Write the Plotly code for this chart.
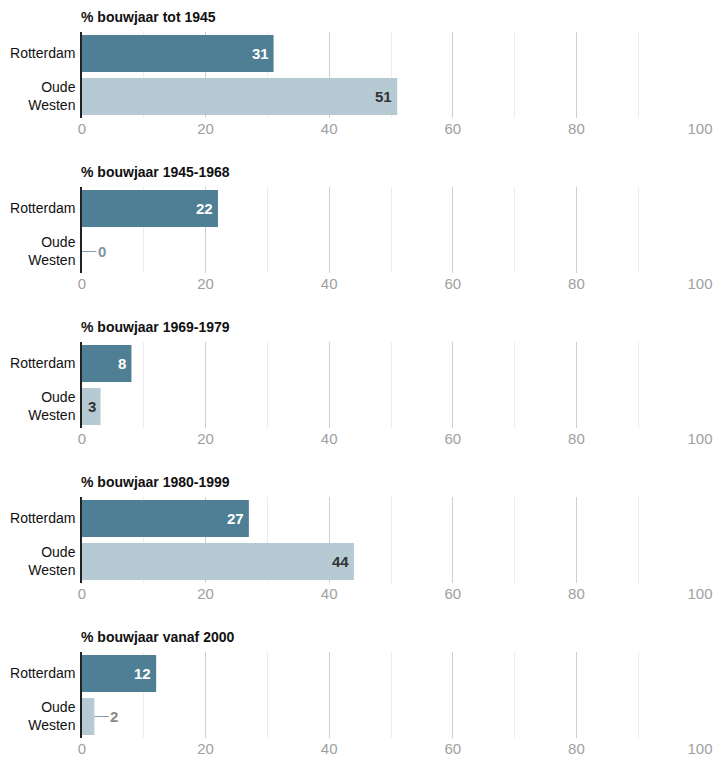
import plotly.graph_objects as go

titles = ["% bouwjaar tot 1945", "% bouwjaar 1945-1968", "% bouwjaar 1969-1979",
          "% bouwjaar 1980-1999", "% bouwjaar vanaf 2000"]
categories = ["Rotterdam", "Oude<br>Westen"]
rotterdam = [31, 22, 8, 27, 12]
oude_westen = [51, 0, 3, 44, 2]
tick_vals = [0, 20, 40, 60, 80, 100]

C_DARK = "#4f7f94"
C_LIGHT = "#b6cad4"
FONT = "Liberation Sans, Arial"

W, H = 715, 764
x0_px, x1_px = 82, 700
fig = go.Figure()
annotations = []
layout = {}

for k in range(5):
    top_px = 32 + 155 * k
    bot_px = 118 + 155 * k
    dom = [1 - bot_px / H, 1 - top_px / H]
    xa = "x" if k == 0 else f"x{k+1}"
    ya = "y" if k == 0 else f"y{k+1}"
    xkey = "xaxis" if k == 0 else f"xaxis{k+1}"
    ykey = "yaxis" if k == 0 else f"yaxis{k+1}"
    vals = [rotterdam[k], oude_westen[k]]
    fig.add_trace(go.Bar(
        x=vals, y=categories, orientation="h",
        marker=dict(color=[C_DARK, C_LIGHT], line=dict(width=0)),
        xaxis=xa, yaxis=ya, showlegend=False, hoverinfo="skip",
    ))
    layout[xkey] = dict(
        domain=[x0_px / W, x1_px / W], range=[0, 100], anchor=ya,
        tickvals=tick_vals, showgrid=True, gridcolor="#cfcfcf", gridwidth=1,
        minor=dict(dtick=10, tick0=0, showgrid=True, gridcolor="#ececec", gridwidth=1),
        zeroline=False, showline=False, ticks="", automargin=False,
        tickfont=dict(family=FONT, size=15, color="#a0a0a0"),
        fixedrange=True,
    )
    layout[ykey] = dict(
        domain=dom, anchor=xa, autorange="reversed", automargin=False,
        showline=True, linecolor="#222", linewidth=1.5, showgrid=False,
        ticks="", ticklabelstandoff=2,
        tickfont=dict(family=FONT, size=14, color="#111"),
        fixedrange=True,
    )
    annotations.append(dict(
        text=f"<b>{titles[k]}</b>", xref="paper", yref="paper",
        x=x0_px / W, y=1 - (top_px - 5) / H, xanchor="left", yanchor="bottom",
        xshift=-3, showarrow=False, font=dict(family=FONT, size=14, color="#111"),
    ))
    for i, v in enumerate(vals):
        col_in = "#ffffff" if i == 0 else "#333333"
        if v >= 3:
            annotations.append(dict(
                text=f"<b>{v}</b>", xref=xa, yref=ya, x=v, y=categories[i],
                xanchor="right", yanchor="middle", xshift=-3, showarrow=False,
                font=dict(family=FONT, size=15, color=col_in),
            ))
        else:
            annotations.append(dict(
                text=f"<b>{v}</b>", xref=xa, yref=ya, x=v, y=categories[i],
                showarrow=True, arrowhead=0, arrowwidth=1, arrowcolor="#8a9aa6",
                ax=20, ay=0, standoff=0, startstandoff=0,
                font=dict(family=FONT, size=15,
                          color="#7f95a3" if v == 0 else "#888888"),
            ))

fig.update_layout(
    width=W, height=H, margin=dict(l=0, r=0, t=0, b=0),
    paper_bgcolor="white", plot_bgcolor="white",
    bargap=0.14, annotations=annotations, **layout,
)
fig.write_html("out.html")
